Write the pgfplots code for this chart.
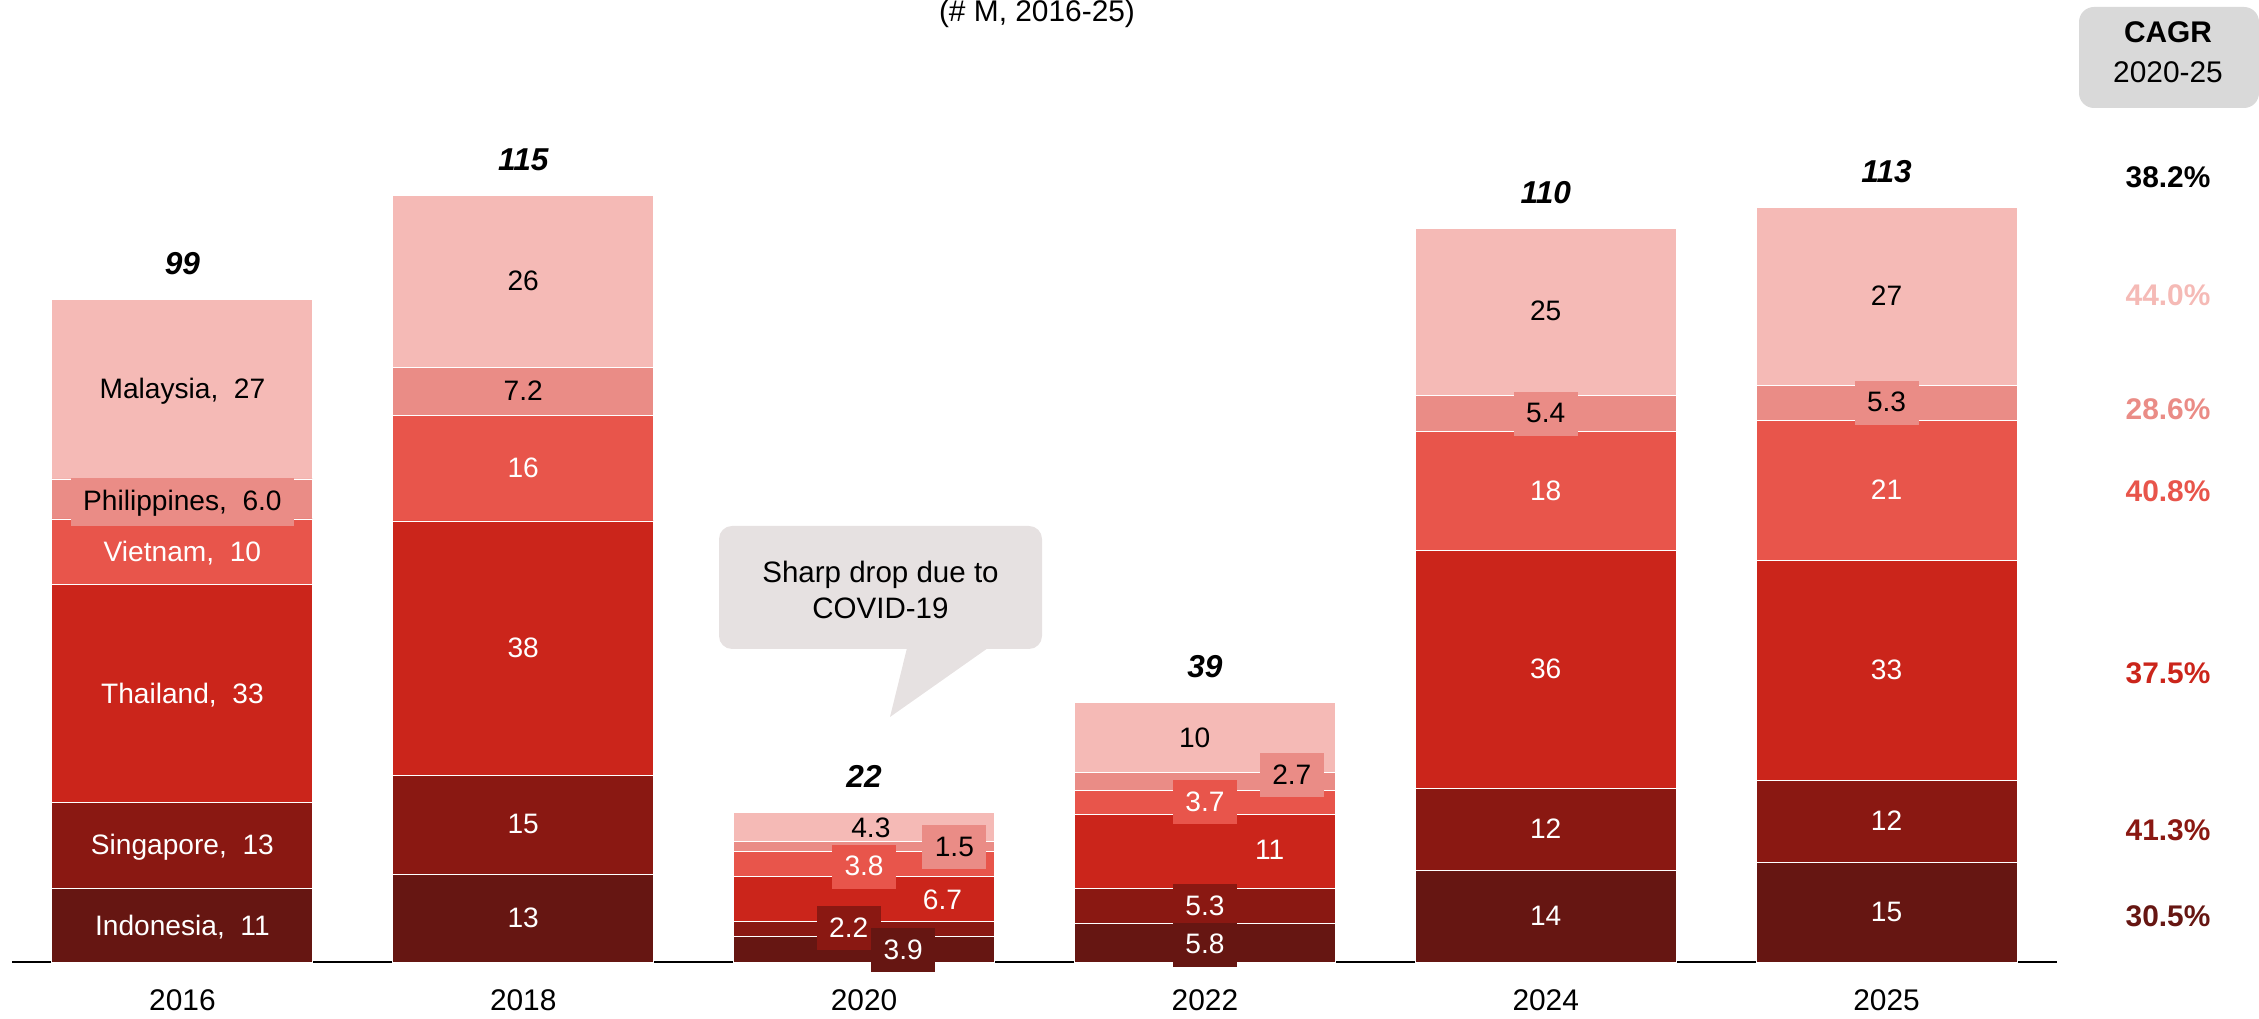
\documentclass[border=0pt]{standalone}
\usepackage{pgfplots}
\pgfplotsset{compat=1.18}
\usepackage{fontspec}
\setmainfont{Liberation Sans}
\definecolor{cIndo}{HTML}{661612}
\definecolor{cSing}{HTML}{8A1812}
\definecolor{cThai}{HTML}{CB251B}
\definecolor{cViet}{HTML}{E8554B}
\definecolor{cPhil}{HTML}{EA8C86}
\definecolor{cMala}{HTML}{F5BAB6}
\definecolor{callout}{HTML}{E6E1E1}
\definecolor{cagrbox}{HTML}{D9D9D9}
\newcommand\lf{\fontsize{8}{9.6}\selectfont}
\tikzset{
  lbl/.style={font=\lf, inner sep=0pt, anchor=center, text height=0.72em, text depth=0.2em},
  bx/.style={lbl, minimum width=0.64cm, minimum height=0.44cm, fill=#1},
  tot/.style={font=\fontsize{9}{10}\selectfont\bfseries\itshape, anchor=base, yshift=0.25cm},
  cg/.style={font=\fontsize{8.5}{10}\selectfont\bfseries, anchor=center},
}
\newcommand\drawlabels{%
% totals
\node[tot] at (axis cs:0,99.4) {99};
\node[tot] at (axis cs:1,115) {115};
\node[tot] at (axis cs:2,22.4) {22};
\node[tot] at (axis cs:3,38.9) {39};
\node[tot] at (axis cs:4,110.1) {110};
\node[tot] at (axis cs:5,113.3) {113};
% 2016
\node[lbl, text=white] at (axis cs:0,5.3) {Indonesia,\ \ 11};
\node[lbl, text=white] at (axis cs:0,17.5) {Singapore,\ \ 13};
\node[lbl, text=white] at (axis cs:0,40.2) {Thailand,\ \ 33};
\node[lbl, text=white] at (axis cs:0,61.5) {Vietnam,\ \ 10};
\node[lbl, fill=cPhil, minimum width=2.23cm, minimum height=0.48cm] at (axis cs:0,69.1) {Philippines,\ \ 6.0};
\node[lbl] at (axis cs:0,86) {Malaysia,\ \ 27};
% 2018
\node[lbl, text=white] at (axis cs:1,6.6) {13};
\node[lbl, text=white] at (axis cs:1,20.6) {15};
\node[lbl, text=white] at (axis cs:1,47.1) {38};
\node[lbl, text=white] at (axis cs:1,74.1) {16};
\node[lbl] at (axis cs:1,85.6) {7.2};
\node[lbl] at (axis cs:1,102.1) {26};
% 2020
\node[lbl] at (axis cs:2.02,20.0) {4.3};
\node[bx=cPhil] at (axis cs:2.265,17.2) {1.5};
\node[bx=cViet, text=white] at (axis cs:2.0,14.3) {3.8};
\node[lbl, text=white] at (axis cs:2.23,9.2) {6.7};
\node[bx=cSing, text=white] at (axis cs:1.955,5.1) {2.2};
\node[bx=cIndo, text=white] at (axis cs:2.115,1.8) {3.9};
% 2022
\node[lbl] at (axis cs:2.97,33.6) {10};
\node[bx=cPhil] at (axis cs:3.255,28.0) {2.7};
\node[bx=cViet, text=white] at (axis cs:3.0,24.0) {3.7};
\node[lbl, text=white] at (axis cs:3.19,16.7) {11};
\node[bx=cSing, text=white] at (axis cs:3.0,8.4) {5.3};
\node[bx=cIndo, text=white] at (axis cs:3.0,2.6) {5.8};
% 2024
\node[lbl, text=white] at (axis cs:4,6.9) {14};
\node[lbl, text=white] at (axis cs:4,19.95) {12};
\node[lbl, text=white] at (axis cs:4,43.95) {36};
\node[lbl, text=white] at (axis cs:4,70.7) {18};
\node[bx=cPhil] at (axis cs:4,82.3) {5.4};
\node[lbl] at (axis cs:4,97.6) {25};
% 2025
\node[lbl, text=white] at (axis cs:5,7.45) {15};
\node[lbl, text=white] at (axis cs:5,21.05) {12};
\node[lbl, text=white] at (axis cs:5,43.75) {33};
\node[lbl, text=white] at (axis cs:5,70.8) {21};
\node[bx=cPhil] at (axis cs:5,83.95) {5.3};
\node[lbl] at (axis cs:5,99.95) {27};
}
\begin{document}
\begin{tikzpicture}[x=1cm,y=1cm]
\useasboundingbox (0,0) rectangle (22.59,10.19);
\begin{axis}[
  at={(0.12cm,0.57cm)}, anchor=south west,
  scale only axis, width=20.45cm, height=9.62cm,
  xmin=-0.5, xmax=5.5, ymin=0, ymax=144.4,
  ybar stacked, bar width=2.61cm,
  axis x line*=bottom, hide y axis,
  x axis line style={-, black, line width=0.7pt},
  xtick={0,...,5}, xticklabels={2016,2018,2020,2022,2024,2025},
  major tick length=0pt,
  xticklabel style={font=\fontsize{8.5}{10}\selectfont, yshift=-0.15cm},
  clip=false,
  after end axis/.code={\drawlabels},
]
\addplot[fill=cIndo, draw=white, line width=0.25pt] coordinates {(0,11) (1,13.2) (2,3.9) (3,5.8) (4,13.8) (5,14.9)};
\addplot[fill=cSing, draw=white, line width=0.25pt] coordinates {(0,13) (1,14.8) (2,2.2) (3,5.3) (4,12.3) (5,12.3)};
\addplot[fill=cThai, draw=white, line width=0.25pt] coordinates {(0,32.6) (1,38.2) (2,6.7) (3,11.0) (4,35.7) (5,33.1)};
\addplot[fill=cViet, draw=white, line width=0.25pt] coordinates {(0,9.9) (1,15.8) (2,3.8) (3,3.7) (4,17.8) (5,21.0)};
\addplot[fill=cPhil, draw=white, line width=0.25pt] coordinates {(0,6.0) (1,7.2) (2,1.5) (3,2.7) (4,5.4) (5,5.3)};
\addplot[fill=cMala, draw=white, line width=0.25pt] coordinates {(0,26.9) (1,25.8) (2,4.3) (3,10.4) (4,25.1) (5,26.7)};
\end{axis}

% title
\node[font=\fontsize{8.5}{10}\selectfont] at (10.37,10.05) {(\# M, 2016-25)};

% callout
\fill[callout, rounded corners=0.13cm] (7.19,3.70) rectangle (10.42,4.93);
\fill[callout] (9.07,3.71) -- (8.90,3.02) -- (9.88,3.71) -- cycle;
\node[font=\fontsize{8.4}{10.5}\selectfont, align=center] at (8.805,4.29) {Sharp drop due to\\COVID-19};

% CAGR header
\fill[cagrbox, rounded corners=0.15cm] (20.79,9.11) rectangle (22.59,10.12);
\node[font=\fontsize{8.5}{10}\selectfont\bfseries] at (21.68,9.87) {CAGR};
\node[font=\fontsize{8.5}{10}\selectfont] at (21.68,9.47) {2020-25};

% CAGR values
\node[cg, text=black] at (21.68,8.42) {38.2\%};
\node[cg, text=cMala] at (21.68,7.24) {44.0\%};
\node[cg, text=cPhil] at (21.68,6.10) {28.6\%};
\node[cg, text=cViet] at (21.68,5.28) {40.8\%};
\node[cg, text=cThai] at (21.68,3.46) {37.5\%};
\node[cg, text=cSing] at (21.68,1.89) {41.3\%};
\node[cg, text=cIndo] at (21.68,1.03) {30.5\%};
\end{tikzpicture}
\end{document}
